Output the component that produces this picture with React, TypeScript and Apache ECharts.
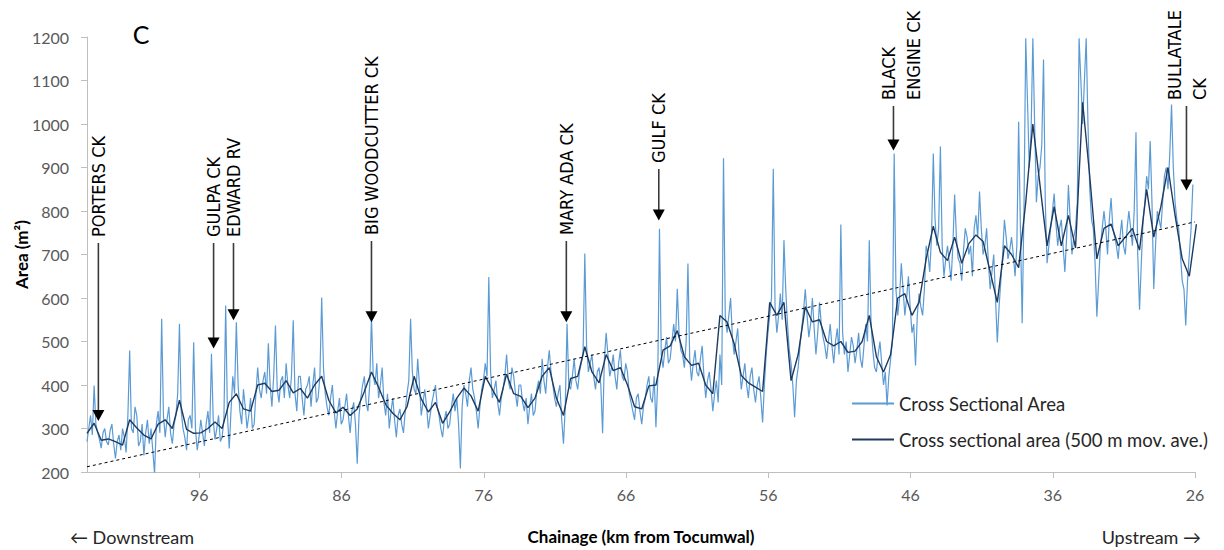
import React, { useEffect, useRef } from "react";
import * as echarts from "echarts";

// ---- data ----
const CHAINAGE_START = 103.9; // km, left edge of the plot (downstream)
const RAW_STEP = 0.125; // km between raw cross-section samples
const MA_STEP = 0.5; // km between moving-average samples
const X_TICKS = [96, 86, 76, 66, 56, 46, 36, 26];

// Cross Sectional Area (m²), from 103.9 km going upstream every 0.125 km
const rawArea = [
  270, 300, 330, 285, 399, 310, 290, 275, 255, 290, 300, 270, 262, 295, 310, 265, 231, 270, 285, 250,
  300, 280, 245, 330, 479, 300, 290, 350, 330, 260, 270, 310, 238, 290, 320, 265, 300, 250, 196, 310,
  340, 290, 552, 330, 280, 320, 350, 290, 265, 310, 330, 380, 541, 340, 300, 280, 250, 320, 330, 300,
  498, 300, 250, 280, 320, 290, 260, 310, 340, 290, 472, 320, 275, 300, 330, 270, 280, 320, 583, 330,
  254, 340, 420, 380, 544, 400, 340, 310, 390, 350, 300, 330, 370, 300, 310, 380, 440, 390, 370, 410,
  430, 380, 496, 400, 350, 420, 537, 390, 360, 410, 420, 370, 450, 400, 370, 420, 549, 380, 340, 420,
  420, 370, 330, 390, 400, 420, 350, 400, 440, 360, 370, 420, 601, 440, 380, 350, 330, 370, 400, 340,
  300, 340, 370, 310, 320, 350, 380, 330, 290, 340, 360, 310, 219, 330, 370, 400, 420, 360, 340, 400,
  556, 420, 400, 450, 370, 400, 440, 360, 330, 380, 300, 340, 370, 320, 280, 330, 345, 310, 290, 340,
  380, 410, 552, 430, 390, 380, 460, 400, 330, 360, 390, 350, 300, 330, 360, 380, 400, 350, 330, 300,
  280, 320, 340, 300, 310, 350, 380, 340, 370, 310, 208, 350, 400, 380, 350, 410, 440, 390, 370, 340,
  300, 350, 390, 410, 450, 420, 648, 430, 370, 390, 410, 360, 330, 370, 390, 420, 470, 410, 390, 440,
  420, 380, 350, 400, 400, 360, 340, 370, 310, 350, 380, 330, 340, 390, 410, 380, 460, 410, 380, 440,
  480, 430, 400, 370, 350, 380, 400, 320, 265, 350, 541, 400, 390, 420, 460, 410, 390, 430, 450, 470,
  702, 490, 430, 450, 470, 420, 390, 430, 440, 400, 289, 460, 520, 470, 420, 440, 470, 420, 390, 450,
  480, 420, 410, 450, 430, 380, 360, 340, 320, 370, 380, 340, 310, 350, 370, 400, 420, 370, 360, 420,
  303, 410, 759, 470, 440, 480, 510, 450, 460, 500, 540, 500, 621, 520, 480, 470, 440, 500, 679, 460,
  410, 450, 480, 430, 420, 460, 490, 420, 370, 410, 430, 390, 340, 380, 410, 360, 470, 400, 921, 560,
  520, 560, 600, 510, 470, 500, 530, 450, 390, 420, 450, 400, 370, 420, 440, 390, 360, 400, 420, 370,
  314, 400, 470, 520, 560, 600, 897, 580, 520, 560, 610, 550, 733, 620, 540, 480, 450, 400, 326, 410,
  440, 490, 530, 570, 620, 560, 510, 540, 600, 530, 470, 520, 590, 540, 510, 490, 460, 500, 540, 490,
  450, 500, 530, 470, 769, 520, 470, 500, 430, 470, 510, 490, 450, 480, 520, 460, 440, 490, 540, 500,
  733, 540, 480, 440, 430, 470, 500, 450, 400, 430, 353, 420, 460, 500, 932, 620, 560, 600, 680, 620,
  560, 600, 650, 580, 520, 540, 445, 560, 610, 580, 560, 620, 720, 700, 660, 740, 932, 780, 720, 760,
  948, 720, 650, 690, 720, 680, 640, 720, 838, 740, 690, 680, 640, 710, 760, 740, 700, 720, 650, 760,
  790, 740, 845, 760, 700, 720, 760, 680, 620, 660, 700, 600, 498, 580, 640, 700, 780, 740, 690, 710,
  740, 700, 650, 720, 1005, 760, 542, 800, 1197, 1050, 900, 980, 1197, 1000, 820, 880, 900, 950, 1148, 820,
  680, 720, 760, 800, 840, 770, 720, 760, 780, 720, 660, 740, 860, 780, 700, 740, 760, 820, 1197, 1100,
  1000, 1100, 1197, 1000, 850, 780, 760, 680, 557, 640, 720, 760, 800, 760, 700, 780, 830, 760, 740, 720,
  690, 740, 780, 720, 700, 760, 800, 760, 720, 800, 981, 700, 573, 680, 780, 820, 880, 850, 961, 820,
  621, 720, 800, 780, 760, 820, 880, 900, 850, 930, 1045, 900, 820, 780, 760, 700, 640, 620, 537, 640,
  700, 760, 861,
];

// Cross sectional area, 500 m moving average (m²), every 0.5 km from 103.9 km
const maArea = [
  289, 312, 273, 276, 270, 262, 320, 301, 285, 276,
  310, 320, 300, 365, 298, 289, 290, 300, 315, 300,
  360, 380, 345, 340, 400, 404, 385, 388, 410, 382,
  392, 370, 400, 420, 365, 336, 349, 330, 345, 385,
  430, 395, 355, 335, 320, 350, 420, 368, 338, 360,
  312, 338, 370, 393, 375, 340, 420, 390, 360, 425,
  380, 374, 348, 370, 420, 440, 370, 330, 415, 420,
  488, 430, 405, 470, 433, 440, 400, 350, 345, 398,
  400, 480, 490, 525, 465, 445, 450, 400, 380, 560,
  545, 495, 422, 405, 395, 385, 590, 560, 590, 410,
  470, 580, 545, 550, 500, 490, 500, 475, 478, 500,
  560, 465, 430, 470, 600, 610, 560, 590, 690, 765,
  705, 686, 740, 680, 725, 745, 730, 660, 590, 720,
  700, 670, 820, 1000, 860, 720, 810, 720, 790, 715,
  1050, 880, 690, 760, 770, 720, 740, 760, 710, 850,
  740, 810, 900, 790, 690, 650, 770,
];

// linear trend (dashed)
const trendChainage = [103.9, 26];
const trendArea = [212, 775];

// tributary annotations
const tributaryNames = [
  ["PORTERS CK"],
  ["GULPA CK"],
  ["EDWARD RV"],
  ["BIG WOODCUTTER CK"],
  ["MARY ADA CK"],
  ["GULF CK"],
  ["BLACK", "ENGINE CK"],
  ["BULLATALE", "CK"],
];
const tributaryChainage = [103.1, 95.0, 93.6, 83.9, 70.2, 63.7, 47.2, 26.6];
const tributaryArrowTip = [317, 484, 549, 544, 544, 778, 939, 847];

// annotation layout (pixels)
const labelBottomY = [237, 237, 237, 235, 235, 163, 100, 100];
const labelColumnDx = [[0], [0], [0], [0], [0], [0], [-5, 20], [-12, 13]];

const RAW_NAME = "Cross Sectional Area";
const MA_NAME = "Cross sectional area (500 m mov. ave.)";
const BASE_FONT = "Lato, 'Open Sans', sans-serif";
const NARROW_FONT = "'Liberation Sans Narrow', 'Arial Narrow', 'DejaVu Sans Condensed', sans-serif";

export default function App() {
  const ref = useRef<HTMLDivElement | null>(null);

  useEffect(() => {
    if (!ref.current) return;
    const chart = echarts.init(ref.current, null, { renderer: "svg" });

    const rawData = rawArea.map((v, i) => [
      +(CHAINAGE_START - i * RAW_STEP).toFixed(3),
      v,
    ]);
    const maData = maArea.map((v, i) => [
      +(CHAINAGE_START - i * MA_STEP).toFixed(2),
      v,
    ]);
    const trendData = trendChainage.map((c, i) => [c, trendArea[i]]);

    chart.setOption({
      animation: false,
      grid: {
        left: 87,
        right: 29,
        top: 37,
        bottom: 78,
        containLabel: false,
        outerBoundsMode: "none",
      },
      legend: {
        data: [RAW_NAME, MA_NAME],
        orient: "vertical",
        left: 847,
        top: 389,
        itemWidth: 42,
        itemHeight: 2,
        itemGap: 17,
        icon: "rect",
        selectedMode: false,
        textStyle: { fontFamily: BASE_FONT, fontSize: 18.5, color: "#262626" },
      },
      xAxis: {
        type: "value",
        inverse: true,
        min: 26,
        max: CHAINAGE_START,
        name: "Chainage (km from Tocumwal)",
        nameLocation: "middle",
        nameGap: 56,
        nameTextStyle: {
          fontFamily: BASE_FONT,
          fontWeight: "bold",
          fontSize: 17,
          color: "#000",
        },
        axisLine: { show: true, lineStyle: { color: "#bfbfbf", width: 1 } },
        axisTick: {
          show: true,
          length: 6,
          customValues: X_TICKS,
          lineStyle: { color: "#bfbfbf" },
        },
        axisLabel: {
          customValues: X_TICKS,
          fontFamily: BASE_FONT,
          fontSize: 16,
          color: "#595959",
          margin: 14,
          formatter: (v: number) => String(v),
        },
        splitLine: { show: false },
      },
      yAxis: {
        type: "value",
        min: 200,
        max: 1200,
        interval: 100,
        name: "Area (m²)",
        nameLocation: "middle",
        nameGap: 57,
        nameMoveOverlap: false,
        nameRotate: 90,
        nameTextStyle: {
          fontFamily: BASE_FONT,
          fontWeight: "bold",
          fontSize: 17,
          color: "#000",
        },
        axisLine: { show: true, lineStyle: { color: "#bfbfbf", width: 1 } },
        axisTick: { show: true, length: 6, lineStyle: { color: "#bfbfbf" } },
        axisLabel: {
          fontFamily: BASE_FONT,
          fontSize: 16,
          color: "#595959",
          margin: 18,
          formatter: (v: number) => String(v),
        },
        splitLine: { show: false },
      },
      series: [
        {
          name: RAW_NAME,
          type: "line",
          data: rawData,
          showSymbol: false,
          symbol: "none",
          lineStyle: { color: "#5b9bd5", width: 1.2 },
          itemStyle: { color: "#5b9bd5" },
          z: 2,
        },
        {
          name: MA_NAME,
          type: "line",
          data: maData,
          showSymbol: false,
          symbol: "none",
          lineStyle: { color: "#1f3a5f", width: 1.4 },
          itemStyle: { color: "#1f3a5f" },
          z: 3,
        },
        {
          name: "Trend",
          type: "line",
          data: trendData,
          showSymbol: false,
          symbol: "none",
          lineStyle: { color: "#000", width: 1, type: [3, 3] },
          itemStyle: { color: "#000" },
          z: 4,
        },
      ],
    });

    const graphics: any[] = [];
    tributaryNames.forEach((lines, k) => {
      const p = chart.convertToPixel({ seriesIndex: 0 }, [
        tributaryChainage[k],
        tributaryArrowTip[k],
      ]) as number[];
      const px = p[0];
      const py = p[1];
      const bottom = labelBottomY[k];
      lines.forEach((t, li) => {
        graphics.push({
          type: "text",
          x: px + labelColumnDx[k][li],
          y: bottom,
          rotation: Math.PI / 2,
          style: {
            text: t,
            fontFamily: NARROW_FONT,
            fontSize: 18,
            fill: "#000",
            align: "left",
            verticalAlign: "middle",
            textAlign: "left",
            textVerticalAlign: "middle",
          },
          z: 10,
        });
      });
      graphics.push({
        type: "line",
        shape: { x1: px, y1: bottom + 6, x2: px, y2: py - 10 },
        style: { stroke: "#3a3a3a", lineWidth: 1.6 },
        z: 10,
      });
      graphics.push({
        type: "polygon",
        shape: {
          points: [
            [px - 6, py - 11],
            [px + 6, py - 11],
            [px, py],
          ],
        },
        style: { fill: "#000" },
        z: 10,
      });
    });

    graphics.push({
      type: "text",
      x: 141,
      y: 34,
      style: {
        text: "C",
        fontFamily: BASE_FONT,
        fontSize: 25,
        fill: "#000",
        align: "center",
        verticalAlign: "middle",
        textAlign: "center",
        textVerticalAlign: "middle",
      },
    });
    graphics.push({
      type: "text",
      x: 70,
      y: 537,
      style: {
        text: "← Downstream",
        fontFamily: BASE_FONT,
        fontSize: 18,
        fill: "#262626",
        align: "left",
        verticalAlign: "middle",
        textAlign: "left",
        textVerticalAlign: "middle",
      },
    });
    graphics.push({
      type: "text",
      x: 1201,
      y: 537,
      style: {
        text: "Upstream →",
        fontFamily: BASE_FONT,
        fontSize: 18,
        fill: "#262626",
        align: "right",
        verticalAlign: "middle",
        textAlign: "right",
        textVerticalAlign: "middle",
      },
    });

    chart.setOption({ graphic: graphics });

    return () => {
      chart.dispose();
    };
  }, []);

  return (
    <div
      ref={ref}
      style={{
        position: "absolute",
        left: 0,
        top: 0,
        width: 1224,
        height: 550,
        background: "#fff",
      }}
    />
  );
}
